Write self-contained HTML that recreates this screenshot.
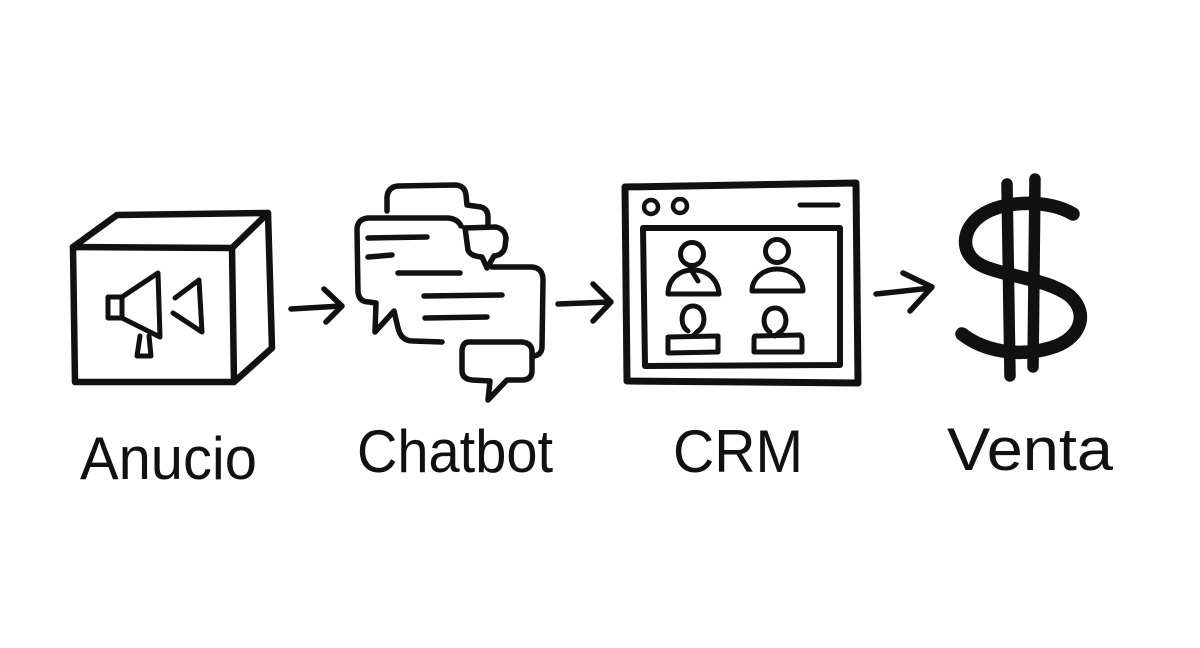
<!DOCTYPE html>
<html>
<head>
<meta charset="utf-8">
<style>
  html,body{margin:0;padding:0;background:#fff;}
  svg{display:block;}
  text{font-family:"Liberation Sans","DejaVu Sans",sans-serif;fill:#111;}
</style>
</head>
<body>
<svg width="1200" height="648" viewBox="0 0 1200 648" xmlns="http://www.w3.org/2000/svg">
  <rect width="1200" height="648" fill="#fff"/>
  <g fill="none" stroke="#111" stroke-linecap="round" stroke-linejoin="round">
    <!-- Cube -->
    <g stroke-width="6.5">
      <path d="M73,247 L232,248 L234,382 L75,382 Z"/>
      <path d="M73,247 L117,215 L268,213 L232,248"/>
      <path d="M268,213 L272,348 L234,382"/>
    </g>
    <!-- megaphone -->
    <g stroke-width="5">
      <path d="M108,297 L122,297 L122,318 L108,318 Z"/>
      <path d="M122,297 L158,273 L160,337 L122,318"/>
      <path d="M140,336 L137,356 L151,356 L149,336"/>
      <path d="M175,298 L199,280 L202,332 L173,313"/>
    </g>
    <!-- Arrow 1 -->
    <g stroke-width="5.5">
      <path d="M291,309 L341,306"/>
      <path d="M324,289 L342,306 L326,322"/>
    </g>

    <!-- Chat bubbles -->
    <g stroke-width="5.5">
      <path d="M387,211 L387,197 Q388,187 398,186 L456,185 Q465,186 466,195 L467,205 L481,207 Q488,209 488,217 L488,225"/>
      <path d="M465,228 L496,227 Q505,229 506,238 L505,247 Q503,255 494,256 L487,268 L482,257 Q470,256 468,250 L465,228"/>
      <path d="M461,226 Q458,219 448,218 L368,218 Q357,219 357,230 L358,292 Q359,302 369,302 L376,303 L375,332 L394,311 L398,328 Q401,341 413,341 L442,342"/>
      <path d="M492,267 L532,267 Q543,268 543,280 L542,348 Q541,355 534,356"/>
      <path d="M469,342 L522,342 Q532,343 532,352 L532,372 Q531,380 522,380 L507,380 L488,400 L490,381 L472,380 Q462,379 462,370 L462,352 Q462,342 469,342"/>
      <path d="M368,238 L427,237"/>
      <path d="M368,257 L392,255"/>
      <path d="M398,273 L460,273"/>
      <path d="M424,296 L502,295"/>
      <path d="M425,318 L487,317"/>
    </g>
    <!-- Arrow 2 -->
    <g stroke-width="5.5">
      <path d="M558,304 L610,302"/>
      <path d="M593,284 L611,302 L593,321"/>
    </g>

    <!-- CRM window -->
    <path d="M625,187 L856,183 L858,383 L627,381 Z" stroke-width="7"/>
    <path d="M643,228 L840,228 L840,365 L645,366 Z" stroke-width="6"/>
    <g stroke-width="4.5">
      <circle cx="651" cy="207" r="7"/>
      <circle cx="680" cy="206" r="7"/>
      <path d="M800,205 L838,205" stroke-width="5"/>
    </g>
    <g stroke-width="5">
      <!-- person 1 -->
      <circle cx="692" cy="254" r="11.5"/>
      <path d="M668,294 C668,279 679,270 693,270 C708,270 718,280 719,294 Z"/>
      <path d="M690,268 L698,281"/>
      <!-- person 2 -->
      <circle cx="777" cy="251" r="11.5"/>
      <path d="M752,291 C752,278 764,269 777,269 C791,269 803,278 803,291 Z"/>
      <!-- person 3 -->
      <path d="M688,331 C679,326 680,306 693,306 C706,306 707,326 698,331 L693,336"/>
      <path d="M668,337 L718,336 L718,352 L668,353 Z"/>
      <!-- person 4 -->
      <path d="M770,332 C761,327 762,308 775,308 C788,308 789,327 780,332 L775,336"/>
      <path d="M755,336 L800,335 Q802,336 802,340 L802,352 L754,352 L754,340 Q754,336 755,336 Z"/>
    </g>

    <!-- Arrow 3 -->
    <g stroke-width="5.5">
      <path d="M876,294 L931,288"/>
      <path d="M903,273 L932,287 L910,311"/>
    </g>

    <!-- Dollar -->
    <path stroke-width="13.5" d="M1073,214 C1050,200 1008,200 985,213 C960,227 958,256 985,267 C1010,277 1050,280 1070,296 C1090,314 1080,340 1050,348 C1020,357 985,352 962,334"/>
    <g stroke-width="11.5">
      <path d="M1007,184 L1010,376"/>
      <path d="M1035,179 L1033,367"/>
    </g>
  </g>

  <!-- Labels -->
  <g>
    <text x="80" y="479" font-size="60" textLength="177" lengthAdjust="spacingAndGlyphs">Anucio</text>
    <text x="357" y="472" font-size="60" textLength="196" lengthAdjust="spacingAndGlyphs">Chatbot</text>
    <text x="673" y="472" font-size="60" textLength="130" lengthAdjust="spacingAndGlyphs">CRM</text>
    <text x="947" y="470" font-size="60" textLength="166" lengthAdjust="spacingAndGlyphs">Venta</text>
  </g>
</svg>
</body>
</html>
